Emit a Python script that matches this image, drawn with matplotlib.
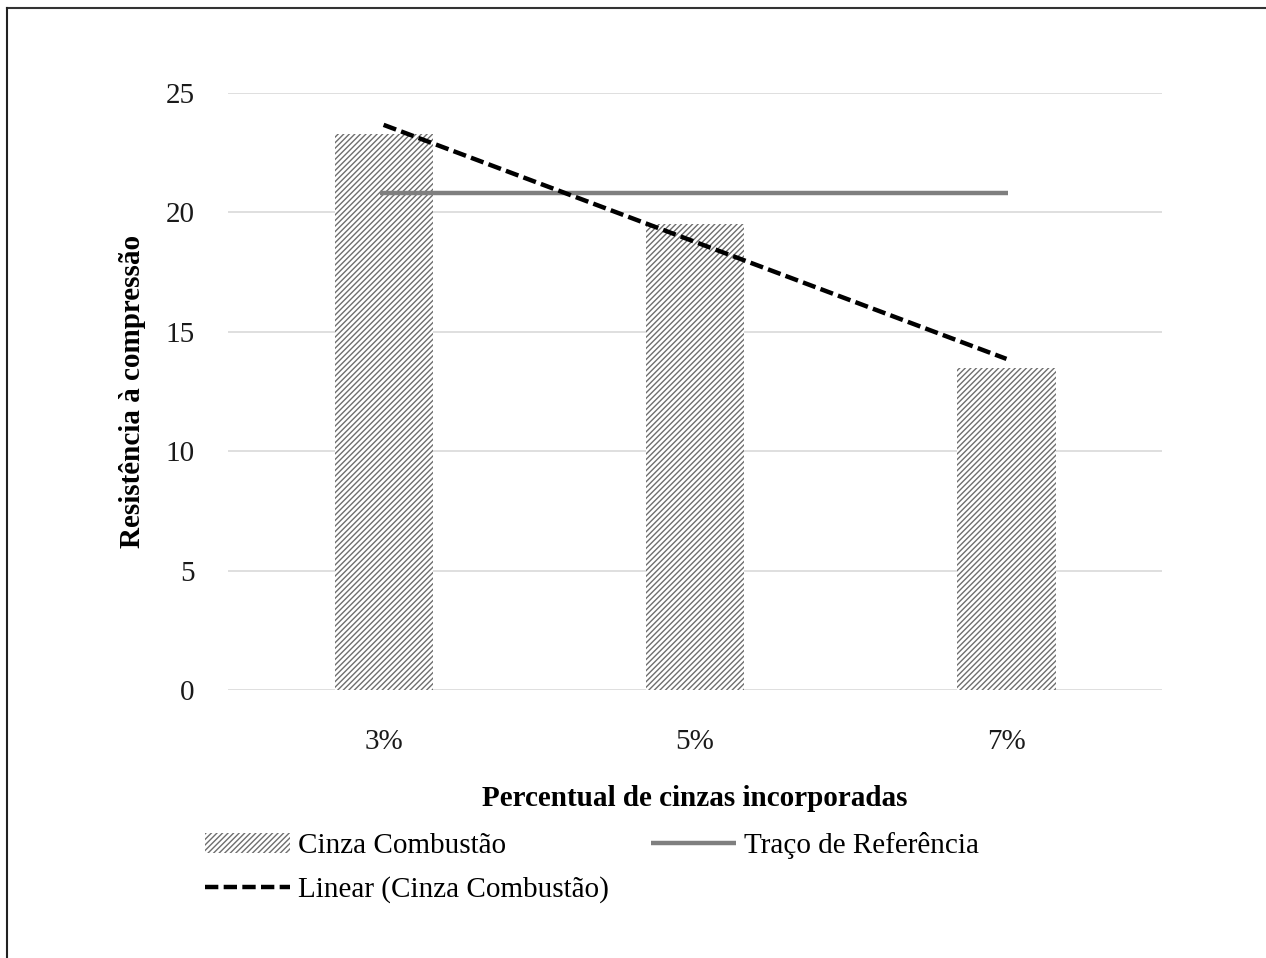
import numpy as np
import matplotlib
matplotlib.use("Agg")
import matplotlib.pyplot as plt
from matplotlib.lines import Line2D

categories = ["3%", "5%", "7%"]
cinza = [23.3, 19.5, 13.5]
referencia = 20.8

plt.rcParams['font.family'] = ['Liberation Serif', 'DejaVu Serif']
plt.rcParams['hatch.linewidth'] = 1.0
plt.rcParams['hatch.color'] = '#6e6e6e'

FS = 21

fig = plt.figure(figsize=(12.66, 9.58), dpi=100)
ax = fig.add_axes([0.180, 0.2797, 0.738, 0.6232])

x = np.arange(len(categories))
bars = ax.bar(x, cinza, width=0.315, color='white', hatch='//////',
              edgecolor='#6e6e6e', linewidth=0, label='Cinza Combustão', zorder=2)

ref, = ax.plot([x[0] - 0.01, x[-1] + 0.005], [referencia, referencia], color='#7f7f7f',
               lw=3.2, solid_capstyle='butt', label='Traço de Referência', zorder=3)

coef = np.polyfit(x, cinza, 1)
trend, = ax.plot(x, np.polyval(coef, x), color='black', lw=3.2, ls=(0, (3.0, 1.2)),
                 label='Linear (Cinza Combustão)', zorder=4)

ax.set_xlim(-0.5, 2.5)
ax.set_ylim(0, 25)
ax.set_yticks(range(0, 26, 5))
ax.set_xticks(x)
ax.set_xticklabels(categories)
ax.yaxis.grid(True, color='#d9d9d9', lw=1.2, zorder=0)
ax.set_axisbelow(True)
for s in ax.spines.values():
    s.set_visible(False)
ax.tick_params(axis='both', length=0, labelsize=FS, colors='#1a1a1a')
ax.tick_params(axis='x', pad=28)
ax.tick_params(axis='y', pad=24)

ax.set_xlabel('Percentual de cinzas incorporadas', fontsize=FS, fontweight='bold', labelpad=22)
ax.set_ylabel('Resistência à compressão', fontsize=FS, fontweight='bold', labelpad=14)

fig.legend(handles=[bars, trend, ref], ncol=2, loc='upper left',
           bbox_to_anchor=(205 / 1266, 1 - 832 / 958), frameon=False, fontsize=FS,
           borderpad=0, borderaxespad=0, handlelength=2.9, handletextpad=0.28,
           columnspacing=1.45, labelspacing=0.6)

fig.add_artist(Line2D([7 / 1266, 1], [1 - 8 / 958, 1 - 8 / 958], color='#333333', lw=1.5))
fig.add_artist(Line2D([7 / 1266, 7 / 1266], [0, 1 - 8 / 958], color='#222222', lw=1.5))

fig.savefig('out.png', dpi=100)
